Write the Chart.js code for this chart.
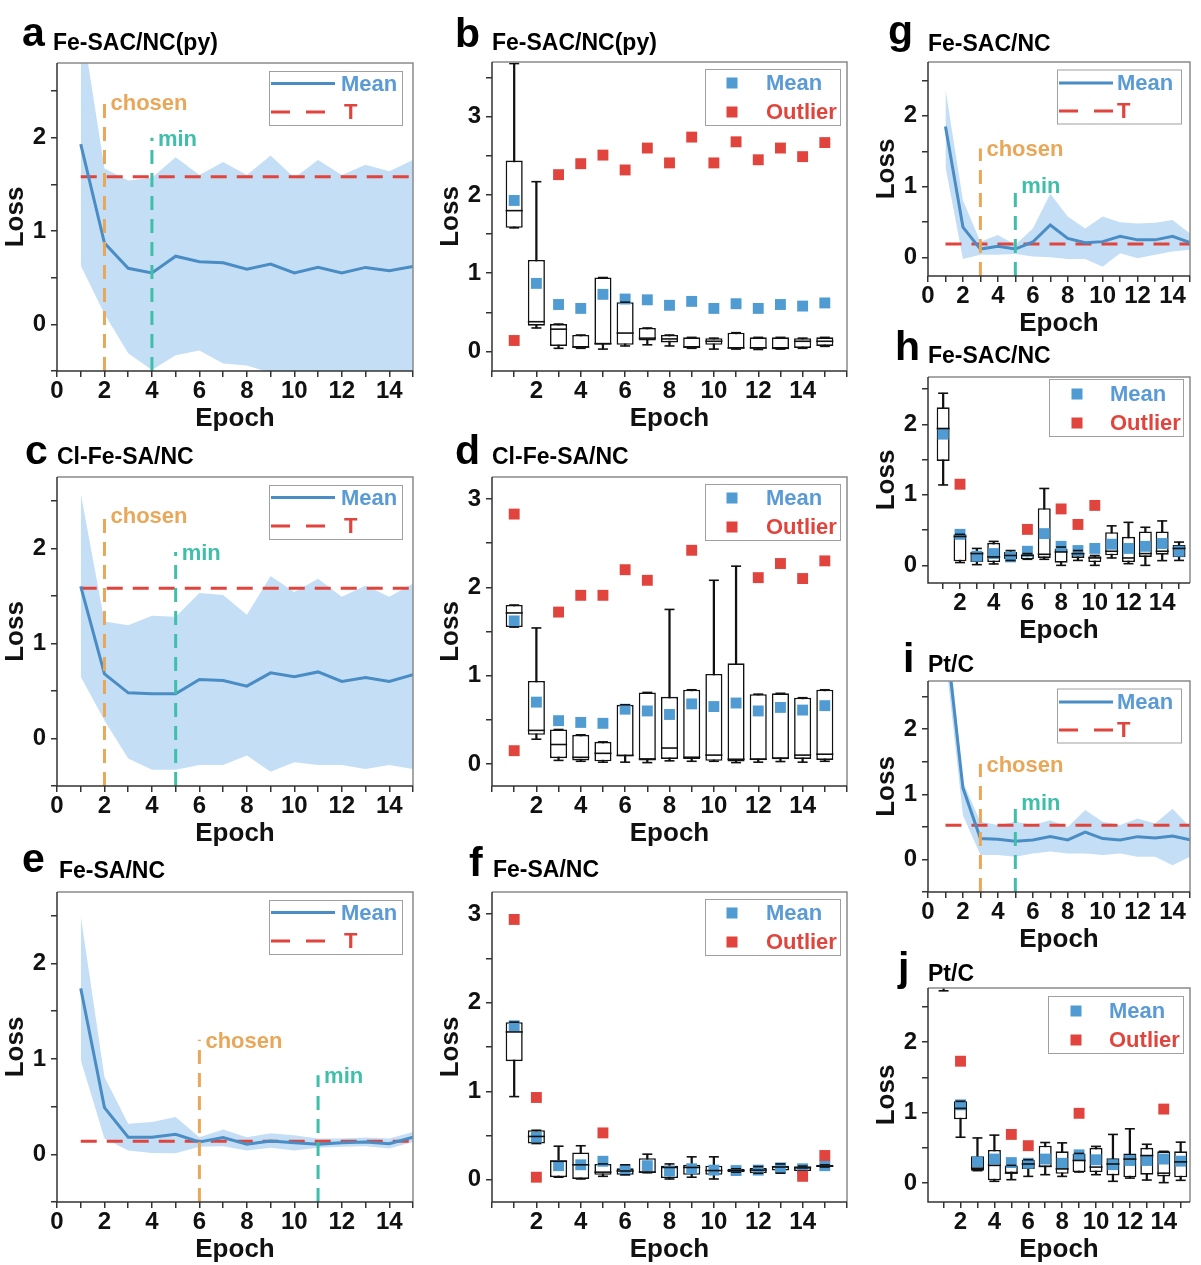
<!DOCTYPE html>
<html>
<head>
<meta charset="utf-8">
<script src="https://cdn.jsdelivr.net/npm/chart.js@4.4.1/dist/chart.umd.min.js"></script>
<style>
body { margin: 0; background: #fff; width: 1201px; height: 1265px; overflow: hidden; position: relative; font-family: "Liberation Sans", Arial, sans-serif; }
.lab { position: absolute; font-weight: bold; color: #000; line-height: 1; white-space: nowrap; z-index: 2; }
.letter { font-size: 41px; }
.ttl { font-size: 23px; }
</style>
</head>
<body>
<div class="lab letter" style="left:22px;top:12px">a</div><div class="lab ttl" style="left:53px;top:31px">Fe-SAC/NC(py)</div>
<div class="lab letter" style="left:455px;top:13px">b</div><div class="lab ttl" style="left:492px;top:31px">Fe-SAC/NC(py)</div>
<div class="lab letter" style="left:25px;top:430px">c</div><div class="lab ttl" style="left:57px;top:445px">Cl-Fe-SA/NC</div>
<div class="lab letter" style="left:455px;top:430px">d</div><div class="lab ttl" style="left:492px;top:445px">Cl-Fe-SA/NC</div>
<div class="lab letter" style="left:22px;top:838px">e</div><div class="lab ttl" style="left:59px;top:859px">Fe-SA/NC</div>
<div class="lab letter" style="left:469px;top:842px">f</div><div class="lab ttl" style="left:493px;top:858px">Fe-SA/NC</div>
<div class="lab letter" style="left:888px;top:10px">g</div><div class="lab ttl" style="left:928px;top:32px">Fe-SAC/NC</div>
<div class="lab letter" style="left:895px;top:326px">h</div><div class="lab ttl" style="left:928px;top:344px">Fe-SAC/NC</div>
<div class="lab letter" style="left:903px;top:638px">i</div><div class="lab ttl" style="left:928px;top:653px">Pt/C</div>
<div class="lab letter" style="left:898px;top:947px">j</div><div class="lab ttl" style="left:928px;top:962px">Pt/C</div>
<script>
const epochs = [1, 2, 3, 4, 5, 6, 7, 8, 9, 10, 11, 12, 13, 14, 15];

// a - Fe-SAC/NC(py), mean with band
const aMean  = [1.93, 0.87, 0.60, 0.55, 0.73, 0.67, 0.66, 0.59, 0.645, 0.55, 0.61, 0.55, 0.61, 0.575, 0.62];
const aUpper = [3.30, 1.67, 1.54, 1.57, 1.79, 1.60, 1.74, 1.60, 1.81, 1.57, 1.76, 1.60, 1.71, 1.64, 1.76];
const aLower = [0.63, 0.11, -0.31, -0.49, -0.33, -0.28, -0.42, -0.44, -0.52, -0.50, -0.55, -0.52, -0.50, -0.50, -0.52];
const aT = 1.58;
const aMarks = [[2, 2.38], [4, 2.0]]; // [epoch, top of line]

// c - Cl-Fe-SA/NC
const cMean  = [1.60, 0.68, 0.48, 0.47, 0.47, 0.62, 0.61, 0.55, 0.69, 0.65, 0.70, 0.60, 0.64, 0.60, 0.67];
const cUpper = [2.58, 1.23, 1.19, 1.29, 1.28, 1.53, 1.51, 1.30, 1.71, 1.54, 1.68, 1.49, 1.61, 1.49, 1.63];
const cLower = [0.65, 0.19, -0.21, -0.33, -0.33, -0.28, -0.28, -0.18, -0.35, -0.25, -0.28, -0.28, -0.32, -0.28, -0.32];
const cT = 1.58;
const cMarks = [[2, 2.35], [5, 1.96]];

// e - Fe-SA/NC
const eMean  = [1.74, 0.49, 0.18, 0.18, 0.21, 0.13, 0.175, 0.105, 0.14, 0.12, 0.105, 0.12, 0.13, 0.11, 0.18];
const eUpper = [2.50, 0.81, 0.32, 0.34, 0.39, 0.18, 0.26, 0.18, 0.22, 0.20, 0.165, 0.165, 0.175, 0.165, 0.235];
const eLower = [0.99, 0.165, 0.04, 0.015, 0.01, 0.08, 0.085, 0.04, 0.07, 0.04, 0.07, 0.08, 0.085, 0.06, 0.13];
const eT = 0.137;
const eMarks = [[6, 1.2], [11, 0.83]];

// g - Fe-SAC/NC
const gMean  = [1.85, 0.43, 0.12, 0.16, 0.12, 0.22, 0.46, 0.27, 0.21, 0.225, 0.30, 0.25, 0.25, 0.30, 0.21];
const gUpper = [2.38, 0.81, 0.225, 0.32, 0.18, 0.41, 0.90, 0.58, 0.41, 0.58, 0.50, 0.48, 0.49, 0.53, 0.34];
const gLower = [1.28, -0.02, 0.04, 0.04, 0.05, 0.015, 0.005, -0.02, -0.02, -0.13, 0.06, -0.01, 0.04, 0.085, 0.11];
const gT = 0.19;
const gMarks = [[3, 1.54], [5, 1.02]];

// i - Pt/C
const iMean  = [3.50, 1.10, 0.32, 0.31, 0.28, 0.30, 0.35, 0.30, 0.42, 0.32, 0.30, 0.35, 0.33, 0.36, 0.30];
const iUpper = [3.90, 1.19, 0.58, 0.53, 0.58, 0.53, 0.60, 0.50, 0.76, 0.58, 0.53, 0.63, 0.55, 0.78, 0.50];
const iLower = [3.10, 0.68, 0.07, 0.07, 0.04, 0.09, 0.12, 0.09, 0.09, 0.07, 0.09, 0.04, 0.04, -0.09, 0.04];
const iT = 0.525;
const iMarks = [[3, 1.47], [5, 0.88]];

// b - Fe-SAC/NC(py) box plot
const bLow  = [1.58, 0.30, 0.04, 0.04, 0.03, 0.07, 0.085, 0.07, 0.04, 0.03, 0.03, 0.025, 0.03, 0.04, 0.065];
const bQ1   = [1.58, 0.33, 0.07, 0.05, 0.085, 0.085, 0.14, 0.115, 0.05, 0.085, 0.035, 0.035, 0.035, 0.045, 0.07];
const bMed  = [1.80, 0.38, 0.285, 0.055, 0.10, 0.235, 0.17, 0.16, 0.055, 0.13, 0.045, 0.045, 0.04, 0.13, 0.13];
const bQ3   = [2.44, 1.17, 0.35, 0.21, 0.945, 0.63, 0.30, 0.21, 0.18, 0.17, 0.24, 0.18, 0.18, 0.17, 0.18];
const bHigh = [3.68, 2.17, 0.35, 0.21, 0.945, 0.63, 0.30, 0.21, 0.18, 0.17, 0.24, 0.18, 0.18, 0.17, 0.18];
const bMean = [1.93, 0.87, 0.60, 0.55, 0.73, 0.67, 0.66, 0.59, 0.64, 0.55, 0.61, 0.55, 0.60, 0.58, 0.62];
const bOutX = [1, 3, 4, 5, 6, 7, 8, 9, 10, 11, 12, 13, 14, 15];
const bOutY = [0.14, 2.26, 2.40, 2.51, 2.32, 2.60, 2.41, 2.74, 2.41, 2.68, 2.45, 2.60, 2.49, 2.67];

// d - Cl-Fe-SA/NC box plot
const dLow  = [1.55, 0.28, 0.04, 0.03, 0.02, 0.02, 0.015, 0.035, 0.03, 0.03, 0.015, 0.02, 0.027, 0.02, 0.03];
const dQ1   = [1.55, 0.33, 0.065, 0.04, 0.03, 0.09, 0.04, 0.057, 0.057, 0.035, 0.027, 0.045, 0.057, 0.057, 0.045];
const dMed  = [1.71, 0.38, 0.22, 0.075, 0.12, 0.095, 0.057, 0.18, 0.076, 0.10, 0.053, 0.053, 0.064, 0.10, 0.11];
const dQ3   = [1.80, 0.94, 0.39, 0.33, 0.25, 0.67, 0.81, 0.76, 0.84, 1.02, 1.14, 0.79, 0.80, 0.75, 0.84];
const dHigh = [1.80, 1.54, 0.39, 0.33, 0.25, 0.67, 0.81, 1.75, 0.84, 2.08, 2.24, 0.79, 0.80, 0.75, 0.84];
const dMean = [1.62, 0.70, 0.49, 0.47, 0.46, 0.62, 0.60, 0.56, 0.68, 0.65, 0.69, 0.60, 0.64, 0.61, 0.66];
const dOutX = [1, 1, 3, 4, 5, 6, 7, 9, 12, 13, 14, 15];
const dOutY = [2.83, 0.15, 1.72, 1.91, 1.91, 2.20, 2.08, 2.42, 2.11, 2.27, 2.10, 2.30];

// f - Fe-SA/NC box plot
const fLow  = [0.94, 0.41, 0.03, 0.01, 0.04, 0.057, 0.08, 0.01, 0.03, 0.01, 0.087, 0.075, 0.075, 0.10, 0.145];
const fQ1   = [1.34, 0.41, 0.03, 0.01, 0.057, 0.057, 0.08, 0.02, 0.057, 0.057, 0.087, 0.075, 0.105, 0.10, 0.145];
const fMed  = [1.67, 0.49, 0.21, 0.17, 0.087, 0.10, 0.087, 0.14, 0.14, 0.105, 0.105, 0.11, 0.145, 0.135, 0.155];
const fQ3   = [1.78, 0.56, 0.22, 0.31, 0.18, 0.13, 0.245, 0.16, 0.17, 0.16, 0.125, 0.135, 0.16, 0.155, 0.17];
const fHigh = [1.78, 0.56, 0.38, 0.385, 0.18, 0.17, 0.29, 0.18, 0.26, 0.26, 0.125, 0.15, 0.18, 0.155, 0.17];
const fMean = [1.74, 0.48, 0.16, 0.17, 0.21, 0.11, 0.16, 0.10, 0.125, 0.11, 0.105, 0.11, 0.135, 0.125, 0.16];
const fOutX = [1, 2, 2, 5, 14, 15];
const fOutY = [2.94, 0.93, 0.03, 0.53, 0.04, 0.275];

// h - Fe-SAC/NC box plot
const hLow  = [1.14, 0.04, 0.01, 0.02, 0.07, 0.086, 0.086, 0.0, 0.07, 0.0, 0.105, 0.024, 0.0, 0.067, 0.07];
const hQ1   = [1.48, 0.057, 0.048, 0.048, 0.086, 0.086, 0.105, 0.038, 0.105, 0.048, 0.143, 0.048, 0.12, 0.152, 0.114];
const hMed  = [1.94, 0.41, 0.167, 0.12, 0.14, 0.143, 0.157, 0.19, 0.167, 0.105, 0.20, 0.105, 0.167, 0.20, 0.24];
const hQ3   = [2.24, 0.44, 0.19, 0.32, 0.19, 0.152, 0.81, 0.24, 0.18, 0.13, 0.47, 0.405, 0.48, 0.48, 0.29];
const hHigh = [2.44, 0.44, 0.24, 0.34, 0.21, 0.167, 1.09, 0.26, 0.21, 0.14, 0.56, 0.61, 0.54, 0.63, 0.33];
const hMean = [1.86, 0.44, 0.13, 0.167, 0.12, 0.20, 0.45, 0.27, 0.21, 0.24, 0.30, 0.24, 0.27, 0.31, 0.20];
const hOutX = [2, 6, 8, 9, 10];
const hOutY = [1.15, 0.51, 0.80, 0.58, 0.85];

// j - Pt/C box plot (epoch 1 sits mostly above the axis)
const jLow  = [2.73, 0.65, 0.175, 0.024, 0.047, 0.094, 0.118, 0.094, 0.156, 0.118, 0.024, 0.07, 0.042, 0.005, 0.038];
const jQ1   = [3.20, 0.905, 0.175, 0.038, 0.14, 0.20, 0.226, 0.13, 0.156, 0.156, 0.108, 0.08, 0.118, 0.094, 0.08];
const jMed  = [3.60, 1.06, 0.21, 0.25, 0.14, 0.27, 0.236, 0.20, 0.32, 0.226, 0.27, 0.34, 0.39, 0.14, 0.30];
const jQ3   = [4.10, 1.16, 0.38, 0.47, 0.25, 0.33, 0.53, 0.45, 0.42, 0.50, 0.35, 0.42, 0.50, 0.45, 0.45];
const jHigh = [4.80, 1.16, 0.64, 0.68, 0.25, 0.33, 0.575, 0.57, 0.42, 0.52, 0.69, 0.77, 0.55, 0.45, 0.58];
const jMean = [3.70, 1.11, 0.30, 0.34, 0.29, 0.28, 0.34, 0.28, 0.40, 0.33, 0.26, 0.32, 0.32, 0.34, 0.31];
const jOutX = [2, 5, 6, 9, 14];
const jOutY = [1.73, 0.69, 0.53, 0.99, 1.05];

const FONT = '"Liberation Sans", Arial, sans-serif';
const INK = '#111';
const AXIS = '#333';
const BLUE = '#4a8cc4';
const BAND = '#c4dff5';
const RED = '#e0443c';
const ORANGE = '#e9a75a';
const TEAL = '#3fbfaa';
const SQBLUE = '#4f9bd2';
const MEANTXT = '#5b9bd5';
const BOXF = 0.77;
const SQ = 7.7;

const YW = 66, XH = 70, PT = 14, PR = 14;

Chart.defaults.font.family = FONT;
Chart.defaults.color = INK;

// frame, legend box and "chosen"/"min" labels
const decor = {
  id: 'decor',
  afterDatasetsDraw(chart, args, o) {
    const { ctx, chartArea: a } = chart;
    const xs = chart.scales.x, ys = chart.scales.y;
    ctx.save();
    ctx.lineWidth = 1.5;
    ctx.strokeStyle = '#8a8a8a';
    ctx.beginPath();
    ctx.moveTo(a.left, a.top); ctx.lineTo(a.right, a.top); ctx.lineTo(a.right, a.bottom);
    ctx.stroke();
    ctx.strokeStyle = AXIS;
    ctx.beginPath();
    ctx.moveTo(a.left, a.top); ctx.lineTo(a.left, a.bottom); ctx.lineTo(a.right, a.bottom);
    ctx.stroke();

    ctx.font = 'bold 22px ' + FONT;
    ctx.textAlign = 'left';
    ctx.textBaseline = 'alphabetic';
    (o.marks || []).forEach(m => {
      ctx.fillStyle = m.color;
      ctx.fillText(m.text, xs.getPixelForValue(m.x) + 6, ys.getPixelForValue(m.top) + 8);
    });

    const L = o.legend;
    if (L) {
      const x0 = a.right - L.dx - L.w, y0 = a.top + L.dy;
      ctx.fillStyle = '#fff';
      ctx.fillRect(x0, y0, L.w, L.h);
      ctx.lineWidth = 1;
      ctx.strokeStyle = '#a0a0a0';
      ctx.strokeRect(x0 + 0.5, y0 + 0.5, L.w, L.h);
      const r1 = y0 + L.r1, r2 = y0 + L.r2;
      ctx.textBaseline = 'middle';
      if (L.kind === 'line') {
        ctx.lineWidth = 3;
        ctx.strokeStyle = BLUE;
        ctx.beginPath(); ctx.moveTo(x0 + L.s0, r1); ctx.lineTo(x0 + L.s1, r1); ctx.stroke();
        ctx.strokeStyle = RED;
        ctx.setLineDash([19, 16]);
        ctx.beginPath(); ctx.moveTo(x0 + L.s0, r2); ctx.lineTo(x0 + L.s0 + 54, r2); ctx.stroke();
        ctx.setLineDash([]);
        ctx.fillStyle = MEANTXT; ctx.fillText('Mean', x0 + L.t1, r1 + 1);
        ctx.fillStyle = RED; ctx.fillText('T', x0 + L.t2, r2 + 1);
      } else {
        ctx.fillStyle = SQBLUE; ctx.fillRect(x0 + L.sq - 5.5, r1 - 5.5, 11, 11);
        ctx.fillStyle = RED; ctx.fillRect(x0 + L.sq - 5.5, r2 - 5.5, 11, 11);
        ctx.fillStyle = MEANTXT; ctx.fillText('Mean', x0 + L.t1, r1 + 1);
        ctx.fillStyle = RED; ctx.fillText('Outlier', x0 + L.t1, r2 + 1);
      }
    }
    ctx.restore();
  }
};

function makeCanvas(p) {
  const c = document.createElement('canvas');
  const w = (p.r - p.l) + YW + PR;
  const h = (p.b - p.t) + PT + XH;
  c.width = w;
  c.height = h;
  c.style.cssText = `position:absolute;left:${p.l - YW}px;top:${p.t - PT}px;width:${w}px;height:${h}px`;
  document.body.appendChild(c);
  return c;
}

function makeScales(p) {
  const yt = [];
  for (let v = Math.ceil(p.yMin * 2) / 2; v <= p.yMax + 1e-9; v += 0.5) yt.push(Math.round(v * 10) / 10);
  const xt = [];
  for (let v = p.xFrom; v <= p.xTo; v++) xt.push(v);
  const tickFont = { size: 24, weight: 'bold' };
  const titleFont = { size: 26, weight: 'bold' };
  const grid = { drawOnChartArea: false, tickLength: 6, color: AXIS, lineWidth: 1.5, offset: false };
  return {
    x: {
      type: 'linear', min: p.xMin, max: p.xMax, offset: false,
      afterBuildTicks: s => { s.ticks = xt.map(v => ({ value: v })); },
      afterFit: s => { s.height = XH; s.paddingLeft = 0; s.paddingRight = 0; },
      grid: grid,
      border: { display: false },
      ticks: {
        font: tickFont, color: INK, padding: 0, autoSkip: false, maxRotation: 0,
        callback: v => (v % 2 === 0 && v >= p.xLab && v <= 14) ? String(v) : ''
      },
      title: { display: true, text: 'Epoch', font: titleFont, color: INK, padding: { top: 0, bottom: 7 } }
    },
    y: {
      type: 'linear', min: p.yMin, max: p.yMax,
      afterBuildTicks: s => { s.ticks = yt.map(v => ({ value: v })); },
      afterFit: s => { s.width = YW; s.paddingTop = 0; s.paddingBottom = 0; },
      grid: grid,
      border: { display: false },
      ticks: { font: tickFont, color: INK, padding: 5, callback: v => Number.isInteger(v) ? String(v) : '' },
      title: { display: true, text: 'Loss', font: titleFont, color: INK, padding: { top: 9, bottom: 0 } }
    }
  };
}

function baseOptions(p, decorOpts) {
  return {
    responsive: false,
    animation: false,
    events: [],
    layout: { padding: { left: 0, top: PT, right: PR, bottom: 0 } },
    scales: makeScales(p),
    plugins: { legend: { display: false }, tooltip: { enabled: false }, decor: decorOpts }
  };
}

const pts = arr => epochs.map((e, i) => ({ x: e, y: arr[i] }));

function linePanel(p, mean, upper, lower, T, marks, legend) {
  const vline = (m, color) => ({
    data: [{ x: m[0], y: p.yMin }, { x: m[0], y: m[1] }],
    borderColor: color, borderWidth: 3, borderDash: [14, 9], pointRadius: 0, order: 1
  });
  new Chart(makeCanvas(p), {
    type: 'line',
    data: {
      datasets: [
        { data: pts(upper), borderWidth: 0, pointRadius: 0, fill: '+1', backgroundColor: BAND, order: 6 },
        { data: pts(lower), borderWidth: 0, pointRadius: 0, fill: false, order: 6 },
        { data: [{ x: 1, y: T }, { x: 15, y: T }], borderColor: RED, borderWidth: 3, borderDash: [16, 10], pointRadius: 0, order: 3 },
        { data: pts(mean), borderColor: BLUE, borderWidth: 3, pointRadius: 0, order: 2 },
        vline(marks[0], ORANGE),
        vline(marks[1], TEAL)
      ]
    },
    options: baseOptions(p, {
      legend: legend,
      marks: [
        { x: marks[0][0], top: marks[0][1], text: 'chosen', color: ORANGE },
        { x: marks[1][0], top: marks[1][1], text: 'min', color: TEAL }
      ]
    }),
    plugins: [decor]
  });
}

function halfBox(chart) {
  const s = chart.scales.x;
  return (s.getPixelForValue(1) - s.getPixelForValue(0)) * BOXF / 2;
}

function boxPanel(p, low, q1, med, q3, high, mean, outX, outY, legend) {
  new Chart(makeCanvas(p), {
    type: 'bar',
    data: {
      datasets: [
        { type: 'bar', data: epochs.map((e, i) => ({ x: e, y: [low[i], high[i]] })),
          backgroundColor: INK, borderWidth: 0, barThickness: 1.6, grouped: false, clip: 0, order: 6 },
        { type: 'bar', data: epochs.map((e, i) => ({ x: e, y: [q1[i], q3[i]] })),
          backgroundColor: '#fff', borderColor: INK, borderWidth: 1.6, borderSkipped: false,
          categoryPercentage: 1, barPercentage: BOXF, grouped: false, clip: 0, order: 5 },
        { type: 'scatter', data: pts(mean), pointStyle: 'rect', pointRadius: SQ,
          backgroundColor: SQBLUE, pointBackgroundColor: SQBLUE, pointBorderWidth: 0, order: 4 },
        { type: 'scatter', data: pts(med), pointStyle: 'line', pointRadius: c => halfBox(c.chart),
          borderColor: INK, pointBorderColor: INK, pointBorderWidth: 1.6, order: 3 },
        { type: 'scatter', data: epochs.flatMap((e, i) => [{ x: e, y: low[i] }, { x: e, y: high[i] }]),
          pointStyle: 'line', pointRadius: 5, borderColor: INK, pointBorderColor: INK, pointBorderWidth: 1.6, order: 2 },
        { type: 'scatter', data: outX.map((x, i) => ({ x: x, y: outY[i] })), pointStyle: 'rect', pointRadius: SQ,
          backgroundColor: RED, pointBackgroundColor: RED, pointBorderWidth: 0, order: 1 }
      ]
    },
    options: baseOptions(p, { legend: legend }),
    plugins: [decor]
  });
}

const LEG_L = { kind: 'line', dx: 11, dy: 8, w: 133, h: 54, r1: 12.5, r2: 41, s0: 2, s1: 66, t1: 72, t2: 75 };
const LEG_R = { kind: 'line', dx: 9, dy: 7.5, w: 124, h: 54, r1: 13.5, r2: 41.5, s0: 2, s1: 56, t1: 60, t2: 60 };
const LEG_B = { kind: 'box', dx: 7, dy: 7, w: 135, h: 56, r1: 14, r2: 43, sq: 27, t1: 61 };

linePanel({ l: 57, t: 63, r: 413, b: 371, xMin: 0, xMax: 15, xFrom: 0, xTo: 15, xLab: 0, yMin: -0.5, yMax: 2.8 },
  aMean, aUpper, aLower, aT, aMarks, LEG_L);
linePanel({ l: 57, t: 477, r: 413, b: 786, xMin: 0, xMax: 15, xFrom: 0, xTo: 15, xLab: 0, yMin: -0.5, yMax: 2.75 },
  cMean, cUpper, cLower, cT, cMarks, LEG_L);
linePanel({ l: 57, t: 892, r: 413, b: 1202, xMin: 0, xMax: 15, xFrom: 0, xTo: 15, xLab: 0, yMin: -0.5, yMax: 2.75 },
  eMean, eUpper, eLower, eT, eMarks, LEG_L);
linePanel({ l: 928, t: 62, r: 1190, b: 276, xMin: 0, xMax: 15, xFrom: 0, xTo: 15, xLab: 0, yMin: -0.26, yMax: 2.76 },
  gMean, gUpper, gLower, gT, gMarks, LEG_R);
linePanel({ l: 928, t: 681, r: 1190, b: 892, xMin: 0, xMax: 15, xFrom: 0, xTo: 15, xLab: 0, yMin: -0.5, yMax: 2.74 },
  iMean, iUpper, iLower, iT, iMarks, LEG_R);

boxPanel({ l: 492, t: 62, r: 847, b: 371, xMin: 0, xMax: 16, xFrom: 0, xTo: 16, xLab: 2, yMin: -0.25, yMax: 3.7 },
  bLow, bQ1, bMed, bQ3, bHigh, bMean, bOutX, bOutY, LEG_B);
boxPanel({ l: 492, t: 477, r: 847, b: 786, xMin: 0, xMax: 16, xFrom: 0, xTo: 16, xLab: 2, yMin: -0.25, yMax: 3.25 },
  dLow, dQ1, dMed, dQ3, dHigh, dMean, dOutX, dOutY, LEG_B);
boxPanel({ l: 492, t: 892, r: 847, b: 1202, xMin: 0, xMax: 16, xFrom: 0, xTo: 16, xLab: 2, yMin: -0.25, yMax: 3.25 },
  fLow, fQ1, fMed, fQ3, fHigh, fMean, fOutX, fOutY, LEG_B);
boxPanel({ l: 928, t: 377, r: 1190, b: 583, xMin: 0.1, xMax: 15.65, xFrom: 1, xTo: 15, xLab: 2, yMin: -0.25, yMax: 2.67 },
  hLow, hQ1, hMed, hQ3, hHigh, hMean, hOutX, hOutY, { kind: 'box', dx: 7, dy: 2, w: 134, h: 57, r1: 15, r2: 44, sq: 28, t1: 61 });
boxPanel({ l: 928, t: 988, r: 1190, b: 1202, xMin: 0.08, xMax: 15.55, xFrom: 1, xTo: 15, xLab: 2, yMin: -0.27, yMax: 2.77 },
  jLow, jQ1, jMed, jQ3, jHigh, jMean, jOutX, jOutY, { kind: 'box', dx: 7, dy: 8, w: 135, h: 57, r1: 15, r2: 44, sq: 28, t1: 61 });
</script>
</body>
</html>
